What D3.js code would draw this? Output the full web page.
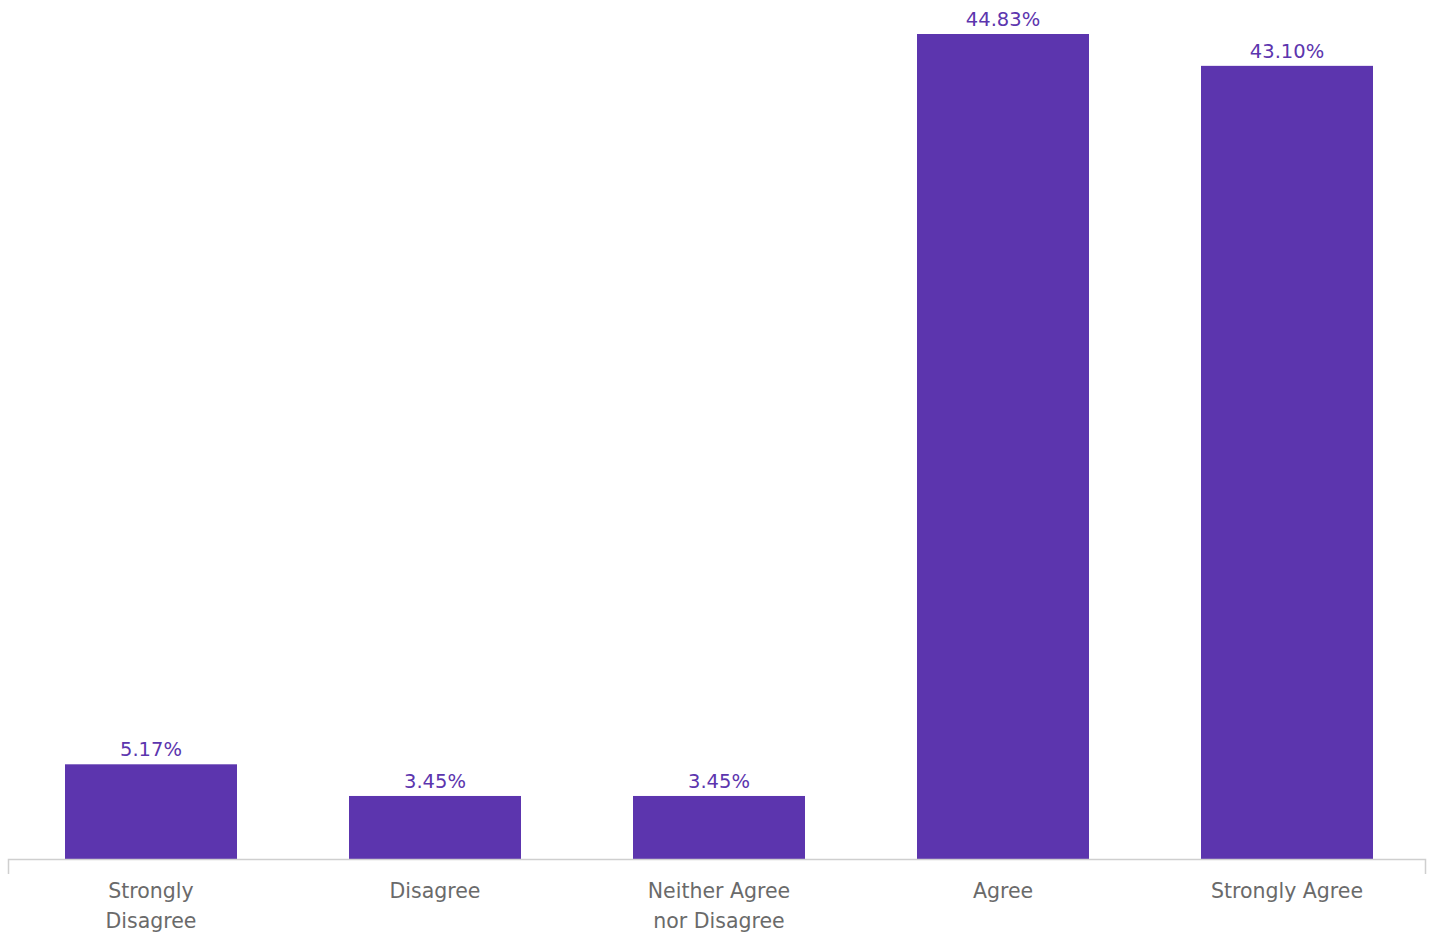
<!DOCTYPE html>
<html><head><meta charset="utf-8">
<script src="https://cdn.jsdelivr.net/npm/d3@7"></script>
<style>html,body{margin:0;padding:0;background:#fff;overflow:hidden}</style>
</head><body>
<svg id="chart" width="1432" height="934"></svg>
<script>
const categories = [["Strongly","Disagree"],["Disagree"],["Neither Agree","nor Disagree"],["Agree"],["Strongly Agree"]];
const values = [5.17, 3.45, 3.45, 44.83, 43.10];
const valueLabels = ["5.17%","3.45%","3.45%","44.83%","43.10%"];

const svg = d3.select("#chart");
const x = d3.scaleBand().domain(d3.range(categories.length)).range([8.2, 1429.8]).paddingInner(0.3944).paddingOuter(0.2);
const y = d3.scaleLinear().domain([0, 44.83]).range([859.5, 34]);
const color = "#5c35ae";

svg.selectAll("rect.bar").data(values).join("rect")
  .attr("class","bar")
  .attr("x",(d,i)=>x(i)).attr("width",x.bandwidth())
  .attr("y",d=>y(d)).attr("height",d=>y(0)-y(d))
  .attr("fill",color);

svg.selectAll("text.val").data(values).join("text")
  .attr("class","val")
  .attr("x",(d,i)=>x(i)+x.bandwidth()/2)
  .attr("y",d=>y(d)-8)
  .attr("text-anchor","middle")
  .attr("font-family","DejaVu Sans, sans-serif")
  .attr("font-size",19.5)
  .attr("fill","#5c35ae")
  .text((d,i)=>valueLabels[i]);

// axis line
svg.append("path").attr("d","M8.5,874V859.5H1425.5V874").attr("fill","none").attr("stroke","#cfcfcf").attr("stroke-width",1.5);

const lab = svg.selectAll("text.cat").data(categories).join("text")
  .attr("class","cat")
  .attr("x",(d,i)=>x(i)+x.bandwidth()/2)
  .attr("y",898)
  .attr("text-anchor","middle")
  .attr("font-family","DejaVu Sans, sans-serif")
  .attr("font-size",20.5)
  .attr("fill","#6a6a6a");
lab.selectAll("tspan").data(d=>d).join("tspan")
  .attr("x",function(){return this.parentNode.getAttribute("x");})
  .attr("dy",(d,i)=>i===0?0:30)
  .text(d=>d);
</script>
</body></html>
